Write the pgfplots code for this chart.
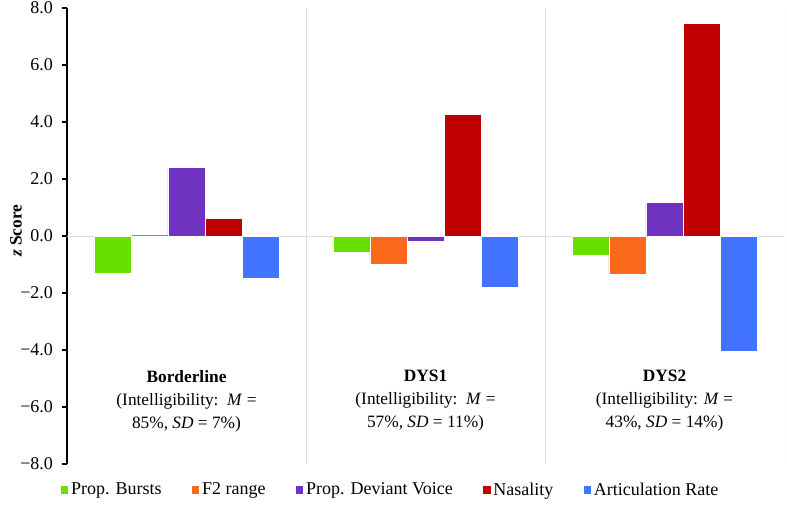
\documentclass[border=0pt]{standalone}
\usepackage{pgfplots}
\pgfplotsset{compat=1.18}
\usepackage{fontspec}
\setmainfont{LiberationSerif}[Extension=.ttf, UprightFont=*-Regular, BoldFont=*-Bold, ItalicFont=*-Italic, BoldItalicFont=*-BoldItalic]
\definecolor{cGreen}{RGB}{102,224,0}
\definecolor{cOrange}{RGB}{250,104,26}
\definecolor{cPurple}{RGB}{112,50,192}
\definecolor{cRed}{RGB}{192,0,0}
\definecolor{cBlue}{RGB}{66,116,255}
\definecolor{sep}{RGB}{218,222,226}
\begin{document}
\begin{tikzpicture}
\useasboundingbox (-50.25pt,-33pt) rectangle (540pt,348pt);
\begin{axis}[
  at={(0,0)}, anchor=south west,
  scale only axis,
  width=537.75pt, height=342pt,
  xmin=-0.5, xmax=2.5,
  ymin=-8, ymax=8,
  axis y line*=left,
  axis x line=none,
  ytick={-8,-6,-4,-2,0,2,4,6,8},
  yticklabels={−8.0,−6.0,−4.0,−2.0,0.0,2.0,4.0,6.0,8.0},
  yticklabel style={font=\fontsize{13.5}{16}\selectfont, xshift=-3pt},
  tick align=outside,
  major tick length=4pt,
  y axis line style={black, line width=0.8pt},
  ytick style={black, line width=0.8pt},
  ylabel={\textbf{\textit{z} Score}},
  ylabel style={font=\fontsize{13}{16}\selectfont, yshift=-8pt, xshift=4pt},
  ybar=0pt,
  bar width=0.155,
  legend columns=-1,
  legend style={draw=none, at={(0.452,-0.057)}, anchor=center,
    font=\fontsize{13.5}{15}\selectfont,
    /tikz/every even column/.append style={column sep=21pt}},
  legend image code/.code={\fill[#1,draw=none] (0pt,-2.7pt) rectangle (5.4pt,2.7pt);},
]
\draw[sep, line width=0.7pt] (axis cs:-0.5,0) -- (axis cs:2.5,0);
\draw[sep, line width=0.7pt] (axis cs:0.5,-8) -- (axis cs:0.5,8);
\draw[sep, line width=0.7pt] (axis cs:1.5,-8) -- (axis cs:1.5,8);
\draw[sep, line width=0.7pt] (axis cs:2.5,-8) -- (axis cs:2.5,8);

\addplot[fill=cGreen, draw=white, line width=0.4pt] coordinates {(0,-1.31) (1,-0.58) (2,-0.68)};
\addplot[fill=cOrange, draw=white, line width=0.4pt] coordinates {(0,0.06) (1,-0.98) (2,-1.33)};
\addplot[fill=cPurple, draw=white, line width=0.4pt] coordinates {(0,2.42) (1,-0.20) (2,1.18)};
\addplot[fill=cRed, draw=white, line width=0.4pt] coordinates {(0,0.62) (1,4.28) (2,7.46)};
\addplot[fill=cBlue, draw=white, line width=0.4pt] coordinates {(0,-1.48) (1,-1.80) (2,-4.06)};
\legend{Prop. Bursts, F2 range, Prop. Deviant Voice, Nasality, Articulation Rate}

\node[anchor=north, align=center, font=\fontsize{13}{17.25}\selectfont] at (axis cs:0,-4.55)
  {{\bfseries Borderline}\\(Intelligibility:\ \ \textit{M} =\\85\%, \textit{SD} = 7\%)};
\node[anchor=north, align=center, font=\fontsize{13}{17.25}\selectfont] at (axis cs:1,-4.55)
  {{\bfseries DYS1}\\(Intelligibility:\ \ \textit{M} =\\57\%, \textit{SD} = 11\%)};
\node[anchor=north, align=center, font=\fontsize{13}{17.25}\selectfont] at (axis cs:2,-4.55)
  {{\bfseries DYS2}\\(Intelligibility: \textit{M} =\\43\%, \textit{SD} = 14\%)};
\end{axis}
\end{tikzpicture}
\end{document}
